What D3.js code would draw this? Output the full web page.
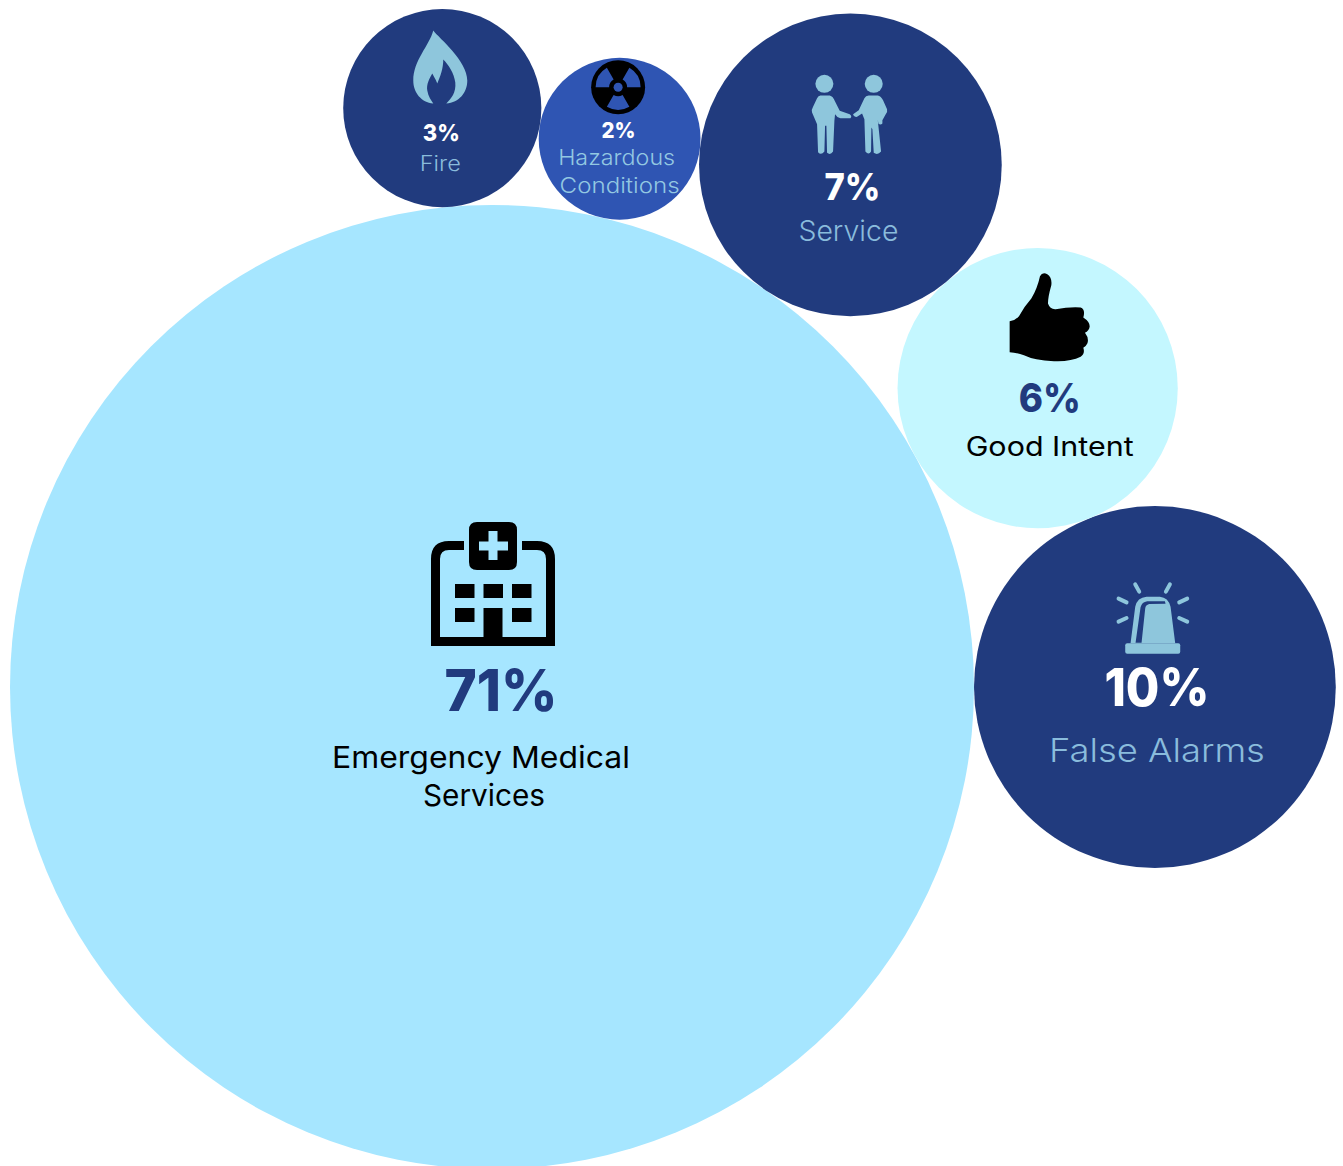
<!DOCTYPE html>
<html>
<head>
<title>Incident types</title>
<meta charset="utf-8">
<style type="text/css">
html, body { margin: 0; padding: 0; background: #fff; overflow: hidden; }
svg { display: block; }
text { font-family: Inter, "DejaVu Sans", sans-serif; text-anchor: middle; }
</style>
<script src="https://d3js.org/d3.v7.min.js"></script>
</head>
<body>
<script type="text/javascript">
// data
var categories = ["Emergency Medical Services", "False Alarms", "Good Intent", "Service", "Hazardous Conditions", "Fire"];
var shares = [71, 10, 6, 7, 2, 3];
var labelLines = [["Emergency Medical", "Services"], ["False Alarms"], ["Good Intent"], ["Service"], ["Hazardous", "Conditions"], ["Fire"]];

// styles, same order as categories
var fills = ["#a6e6ff", "#213b7e", "#c4f7ff", "#213b7e", "#2f55b3", "#213b7e"];
var pctColors = ["#213b7e", "#fff", "#213b7e", "#fff", "#fff", "#fff"];
var nameColors = ["#000", "#8abcdc", "#000", "#8abcdc", "#93c8e2", "#8abcdc"];
var nameWeights = [400, 300, 400, 300, 300, 300];
var icons = ["hospital", "siren", "thumb", "people", "radiation", "flame"];

// text layout relative to the bubble centre: [dx, baseline dy, px size, stretched width]
var pctLayout = [[9, 24, 58, 113], [2, 19, 52, 105], [12, 24, 40, 62], [2, 35, 37, 56], [-1, -1, 22, 34], [-1, 33, 23, 37]];
var nameLayout = [
	[[-11, 81, 30, 298], [-8, 119, 30, 122]],
	[[2, 75, 32, 216]],
	[[12, 68, 27, 168]],
	[[-2, 76, 28, 100]],
	[[-3, 26, 22, 117], [0, 54, 22, 120]],
	[[-2, 63, 21, 41]]
];
// icon origin relative to the bubble centre and its scale
var iconLayout = [[-61, -165, 1], [-55, -117, 1 / 3], [-47, -128, 1 / 3], [-60, -104, 1 / 3], [-1.500, -51.500, 1], [-29, -77.500, 1]];

var width = 1343;
var height = 1166;
var hubX = 492;
var hubY = 687;

var radius = d3.scaleSqrt().domain([0, 71]).range([0, 482]);

// the big bubble sits still, the others run round it, each touching the one before
function placeBubbles() {
	var R = radius(shares[0]);
	var nodes = [{i: 0, r: R, x: hubX, y: hubY}];
	var angle = 0;
	for (var i = 1; i < shares.length; i++) {
		var r = radius(shares[i]);
		if (i > 1) {
			var p = radius(shares[i - 1]);
			var a = R + p, b = R + r, c = p + r;
			angle += Math.acos((a * a + b * b - c * c) / (2 * a * b));
		}
		nodes.push({i: i, r: r, x: hubX + (R + r) * Math.cos(angle), y: hubY - (R + r) * Math.sin(angle)});
	}
	return nodes;
}

var iconDraw = {
	hospital: function(g) {
		g.append("path").attr("fill-rule", "evenodd").attr("fill", "#000")
			.attr("d", "M33 19H18Q0 19 0 37V124H124V37Q124 19 106 19H91V28H106Q115 28 115 37V115H71.500V86H52.500V115H9V37Q9 28 18 28H33Z"
				+ "M46 0H78Q86 0 86 8V40Q86 48 78 48H46Q38 48 38 40V8Q38 0 46 0Z"
				+ "M57.500 9H66.500V19.500H77V28.500H66.500V38H57.500V28.500H48V19.500H57.500Z");
		g.append("g").selectAll("rect")
			.data([[24, 62], [52.500, 62], [81, 62], [24, 86], [81, 86]])
			.join("rect")
			.attr("x", function(d) { return d[0]; })
			.attr("y", function(d) { return d[1]; })
			.attr("width", 19.500).attr("height", 14);
	},
	siren: function(g) {
		g.append("path").attr("fill", "none").attr("stroke", "#8ec6dc").attr("stroke-width", 12).attr("stroke-linecap", "round")
			.attr("d", "M106 43L118 65M210 43L198 65M56 86L80 97M262 86L238 97M56 155L80 144M262 155L238 144");
		g.append("path").attr("fill", "#8ec6dc").attr("fill-rule", "evenodd")
			.attr("d", "M92 220L106 110Q112 82 140 80L180 80Q205 82 212 110L226 220Z"
				+ "M107 218L122 112Q126 96 142 94L195 94L197 101L148 102Q137 105 136 115L125 218Z");
		g.append("rect").attr("fill", "#8ec6dc").attr("x", 76).attr("y", 220).attr("width", 165).attr("height", 31).attr("rx", 6);
	},
	thumb: function(g) {
		g.append("path").attr("fill", "#000")
			.attr("d", "M57 183Q72 182 85 168Q100 140 122 115Q140 85 148 48Q155 35 170 42Q185 52 182 75Q172 110 172 130Q178 148 195 147Q235 140 270 142Q285 148 278 172Q298 185 297 200Q295 212 283 218Q296 235 290 250Q285 260 278 263Q284 280 270 290Q240 305 190 303Q130 300 100 285Q80 278 57 276Z");
	},
	people: function(g) {
		var c = "#8ec6dc";
		g.append("circle").attr("cx", 102).attr("cy", 69).attr("r", 27).attr("fill", c);
		g.append("circle").attr("cx", 250).attr("cy", 69).attr("r", 27).attr("fill", c);
		g.append("path").attr("fill", c)
			.attr("d", "M90 104L118 104Q128 106 134 122L148 150L178 160Q186 166 180 172L150 172Q138 168 134 160L132 180L128 272Q120 284 110 276L108 195L104 195L102 272Q92 284 83 274L80 190L65 155Q62 148 68 138L80 112Q84 105 90 104Z");
		g.append("path").attr("fill", c)
			.attr("d", "M235 104L262 104Q272 106 278 118L290 145Q292 152 286 160L276 178L276 188Q270 194 264 188L262 176L272 272Q262 284 250 276L246 205L243 200L242 272Q235 284 225 272L222 175L215 158L200 168Q190 170 188 160L205 148L222 112Q226 105 235 104Z");
	},
	radiation: function(g, fill) {
		g.append("circle").attr("r", 27).attr("fill", "#000");
		var arc = d3.arc().innerRadius(9).outerRadius(22.500);
		g.selectAll("path").data([-90, 30, 150]).join("path")
			.attr("fill", fill)
			.attr("d", function(d) {
				return arc({startAngle: d * Math.PI / 180, endAngle: (d + 60) * Math.PI / 180});
			});
		g.append("circle").attr("r", 4.500).attr("fill", fill);
	},
	flame: function(g) {
		g.append("path").attr("fill", "#8ec6dc")
			.attr("d", "M20 0C26 8 54 30 54 50C54 62 46 72 33 73C38 68 43 62 42 52C41 43 35 34 30 29C30 38 27 46 24 53C22 48 20 45 19 43C16 48 13 54 14 60C15 66 18 70 20 73C8 72 0 62 0 50C0 30 16 15 20 0Z");
	}
};

var svg = d3.select("body").append("svg")
	.attr("width", width)
	.attr("height", height);

var bubbles = svg.selectAll("g.bubble")
	.data(placeBubbles())
	.join("g")
	.attr("class", "bubble")
	.attr("transform", function(d) { return "translate(" + d.x + "," + d.y + ")"; });

bubbles.append("circle")
	.attr("r", function(d) { return d.r; })
	.attr("fill", function(d) { return fills[d.i]; });

bubbles.each(function(d) {
	var g = d3.select(this);
	var place = iconLayout[d.i];
	var holder = g.append("g")
		.attr("transform", "translate(" + place[0] + "," + place[1] + ") scale(" + place[2] + ")");
	iconDraw[icons[d.i]](holder, fills[d.i]);

	var pct = pctLayout[d.i];
	g.append("text")
		.attr("x", pct[0]).attr("y", pct[1])
		.attr("font-size", pct[2]).attr("font-weight", 800)
		.attr("fill", pctColors[d.i])
		.attr("textLength", pct[3]).attr("lengthAdjust", "spacingAndGlyphs")
		.text(shares[d.i] + "%");

	labelLines[d.i].forEach(function(line, k) {
		var n = nameLayout[d.i][k];
		g.append("text")
			.attr("x", n[0]).attr("y", n[1])
			.attr("font-size", n[2]).attr("font-weight", nameWeights[d.i])
			.attr("fill", nameColors[d.i])
			.attr("textLength", n[3]).attr("lengthAdjust", "spacingAndGlyphs")
			.text(line);
	});
});
</script>
</body>
</html>
